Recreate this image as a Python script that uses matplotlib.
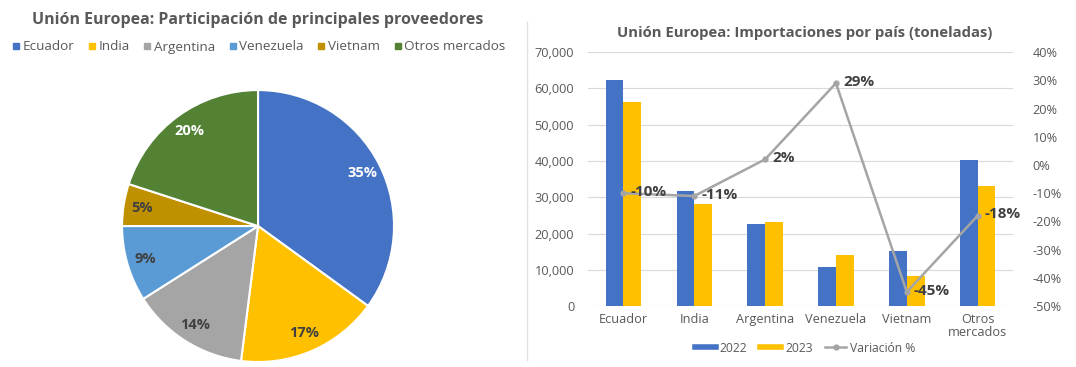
import matplotlib
matplotlib.use("Agg")
import matplotlib.pyplot as plt
from matplotlib.lines import Line2D
import numpy as np

plt.rcParams["font.family"] = ["Open Sans", "DejaVu Sans"]

# --- data ---
pie_labels = ["Ecuador", "India", "Argentina", "Venezuela", "Vietnam", "Otros mercados"]
pie_share = [35, 17, 14, 9, 5, 20]
pie_colors = ["#4472C4", "#FFC000", "#A5A5A5", "#5B9BD5", "#BF9000", "#548235"]
pie_text_colors = ["white", "#404040", "#404040", "#404040", "#404040", "white"]

countries = ["Ecuador", "India", "Argentina", "Venezuela", "Vietnam", "Otros\nmercados"]
imp_2022 = [62300, 31600, 22600, 10800, 15100, 40300]
imp_2023 = [56200, 28100, 23100, 14100, 8300, 33000]
variacion = [-10, -11, 2, 29, -45, -18]

TXT = "#595959"
BLUE, GOLD, GREY = "#4472C4", "#FFC000", "#A5A5A5"

fig = plt.figure(figsize=(10.76, 3.67), dpi=100)

# ---------- pie ----------
axp = fig.add_axes([0.1134, 0.0136, 0.2528, 0.741])
wedges, _, autotexts = axp.pie(
    pie_share, colors=pie_colors, startangle=90, counterclock=False,
    autopct="%d%%", pctdistance=0.86, radius=1.0,
    wedgeprops=dict(edgecolor="white", linewidth=1.5))
for t, c in zip(autotexts, pie_text_colors):
    t.set_color(c)
    t.set_fontweight("bold")
    t.set_fontsize(10.5)
axp.set_xlim(-1.0, 1.0)
axp.set_ylim(-1.0, 1.0)
axp.set_aspect("equal")

fig.text(258 / 1076, 1 - 20 / 367, "Unión Europea: Participación de principales proveedores",
         ha="center", va="center", fontsize=11.5, fontweight="bold", color=TXT)
handles = [Line2D([], [], marker="s", linestyle="", color=c, markersize=4) for c in pie_colors]
fig.legend(handles, pie_labels, loc="center", bbox_to_anchor=(258 / 1076, 1 - 47 / 367),
           ncol=6, frameon=False, fontsize=9.7, labelcolor=TXT, handletextpad=0.1,
           columnspacing=0.9, handlelength=0.8)

# divider
fig.add_artist(Line2D([527 / 1076, 527 / 1076], [0.02, 0.94], color="#E0E0E0", lw=1))

# ---------- bars ----------
ax = fig.add_axes([0.5465, 0.166, 0.395, 0.692])
x = np.arange(len(countries))
w = 0.25
ax.bar(x - w / 2, imp_2022, w, color=BLUE, label="2022", zorder=2)
ax.bar(x + w / 2, imp_2023, w, color=GOLD, label="2023", zorder=2)
ax.set_ylim(0, 70000)
ax.set_xlim(-0.5, len(countries) - 0.5)
ax.set_yticks(np.arange(0, 70001, 10000))
ax.yaxis.set_major_formatter(matplotlib.ticker.FuncFormatter(lambda v, p: f"{int(v):,}"))
ax.set_xticks(x)
ax.set_xticklabels(countries, linespacing=1.0)
ax.grid(axis="y", color="#D9D9D9", lw=0.8, zorder=0)
ax.tick_params(length=0, labelsize=9.2, labelcolor=TXT, pad=10)
ax.tick_params(axis="x", pad=5)
for s in ax.spines.values():
    s.set_visible(False)

ax2 = ax.twinx()
ax2.plot(x, np.array(variacion) / 100, color=GREY, lw=1.8, marker="o", markersize=3.5,
         label="Variación %", zorder=3)
ax2.set_ylim(-0.5, 0.4)
ax2.set_yticks(np.arange(-0.5, 0.41, 0.1))
ax2.yaxis.set_major_formatter(matplotlib.ticker.FuncFormatter(lambda v, p: f"{round(v * 100):d}%"))
ax2.tick_params(length=0, labelsize=9.2, labelcolor=TXT, pad=14)
for s in ax2.spines.values():
    s.set_visible(False)
for xi, v in zip(x, variacion):
    ax2.annotate(f"{v}%", (xi, v / 100), xytext=(5, 1), textcoords="offset points",
                 ha="left", va="center", fontsize=11, fontweight="bold", color="#404040")

fig.text(805 / 1076, 1 - 33 / 367, "Unión Europea: Importaciones por país (toneladas)",
         ha="center", va="center", fontsize=10.7, fontweight="bold", color=TXT)

leg_h = [Line2D([], [], color=BLUE, lw=4), Line2D([], [], color=GOLD, lw=4),
         Line2D([], [], color=GREY, lw=1.8, marker="o", markersize=3.5)]
fig.legend(leg_h, ["2022", "2023", "Variación %"], loc="center",
           bbox_to_anchor=(805 / 1076, 1 - 348 / 367), ncol=3, frameon=False,
           fontsize=8.7, labelcolor=TXT, handlelength=1.8, handletextpad=0.3, columnspacing=1.0)

fig.savefig("out.png", dpi=100)
